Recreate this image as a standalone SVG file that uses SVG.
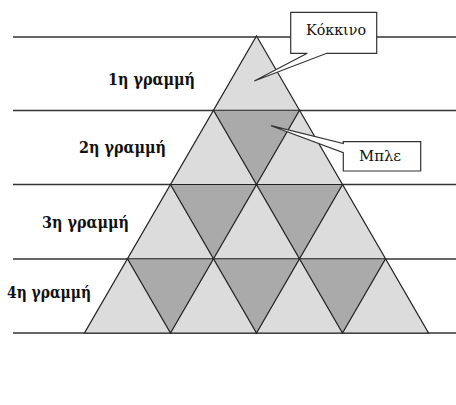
<svg xmlns="http://www.w3.org/2000/svg" width="456" height="405" viewBox="0 0 456 405">
  <style>
    .rule { stroke: #333; stroke-width: 1.5; fill: none; }
    .up { fill: #dcdcdc; stroke: #222; stroke-width: 1.2; stroke-linejoin: miter; }
    .down { fill: #aaaaaa; stroke: #222; stroke-width: 1.2; }
    .label { font-family: "DejaVu Serif Condensed", "DejaVu Serif", serif; font-weight: bold; font-size: 16.5px; fill: #111; }
    .callout { fill: #fff; stroke: #333; stroke-width: 1.2; }
    .ctext { font-family: "DejaVu Serif Condensed", "DejaVu Serif", serif; font-size: 15px; fill: #111; }
  </style>

  <rect width="456" height="405" fill="#fff"/>

  <!-- row separators -->
  <g id="rules">
    <line class="rule" x1="13" y1="37" x2="456" y2="37"/>
    <line class="rule" x1="13" y1="110.5" x2="456" y2="110.5"/>
    <line class="rule" x1="13" y1="184.5" x2="456" y2="184.5"/>
    <line class="rule" x1="13" y1="259" x2="456" y2="259"/>
    <line class="rule" x1="13" y1="333" x2="456" y2="333"/>
  </g>

  <!-- pyramid: light outer triangle, dark inverted triangles per row -->
  <g id="pyramid">
    <polygon class="up" points="256.5,36 428.5,333 84.5,333"/>
  </g>
  <g id="row1">
    <text class="label" x="108" y="85" textLength="87" lengthAdjust="spacingAndGlyphs">1η γραμμή</text>
  </g>
  <g id="row2">
    <polygon class="down" points="213.5,110.25 299.5,110.25 256.5,184.5"/>
    <text class="label" x="79" y="153" textLength="87" lengthAdjust="spacingAndGlyphs">2η γραμμή</text>
  </g>
  <g id="row3">
    <polygon class="down" points="170.5,184.5 256.5,184.5 213.5,258.75"/>
    <polygon class="down" points="256.5,184.5 342.5,184.5 299.5,258.75"/>
    <text class="label" x="42" y="228" textLength="87" lengthAdjust="spacingAndGlyphs">3η γραμμή</text>
  </g>
  <g id="row4">
    <polygon class="down" points="127.5,258.75 213.5,258.75 170.5,333"/>
    <polygon class="down" points="213.5,258.75 299.5,258.75 256.5,333"/>
    <polygon class="down" points="299.5,258.75 385.5,258.75 342.5,333"/>
    <text class="label" x="7" y="298" textLength="84" lengthAdjust="spacingAndGlyphs">4η γραμμή</text>
  </g>

  <!-- callouts -->
  <g id="callout-red">
    <path class="callout" d="M290.7,12.3 H376.7 V53.3 H326.7 L254.3,81 L307.3,53.3 H290.7 Z"/>
    <text class="ctext" x="306" y="34.5" textLength="60" lengthAdjust="spacingAndGlyphs">Κόκκινο</text>
  </g>
  <g id="callout-blue">
    <path class="callout" d="M343.3,141.7 H420.7 V171 H343.3 V152.7 L271,125.7 L343.3,143.5 Z"/>
    <text class="ctext" x="359" y="160.5" textLength="42" lengthAdjust="spacingAndGlyphs">Μπλε</text>
  </g>
</svg>
